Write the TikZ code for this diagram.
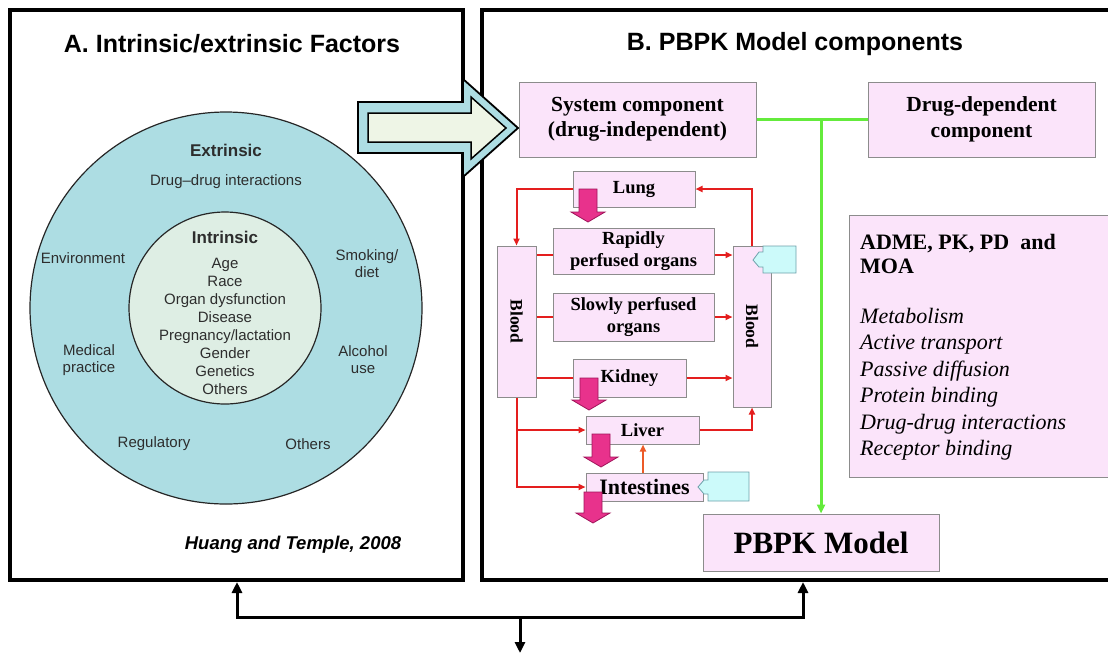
\documentclass[tikz,border=0pt]{standalone}
\usepackage{fontspec}
\usepackage{graphicx}
\setmainfont{Liberation Serif}
\newfontfamily\arialfont[Ligatures=TeX]{Liberation Sans}
\usetikzlibrary{arrows.meta}

\definecolor{outerblue}{RGB}{173,221,227}
\definecolor{innergreen}{RGB}{222,238,228}
\definecolor{arrowfill}{RGB}{238,245,230}
\definecolor{boxpink}{RGB}{251,228,250}
\definecolor{boxgray}{RGB}{140,140,140}
\definecolor{flowred}{RGB}{228,30,30}
\definecolor{floworange}{RGB}{236,90,40}
\definecolor{drainpink}{RGB}{232,50,140}
\definecolor{draindark}{RGB}{160,20,90}
\definecolor{notchcyan}{RGB}{204,250,250}
\definecolor{notchedge}{RGB}{110,160,170}
\definecolor{linkgreen}{RGB}{100,235,60}
\definecolor{labelgray}{RGB}{45,45,45}

\tikzset{
  panel/.style={draw=black, line width=4pt},
  title/.style={font=\arialfont\bfseries\fontsize{25}{30}\selectfont, inner sep=0pt},
  factor/.style={font=\arialfont\fontsize{15}{17}\selectfont, text=labelgray, align=center, inner sep=0pt},
  factorhead/.style={font=\arialfont\bfseries\fontsize{17}{20}\selectfont, text=labelgray, inner sep=0pt},
  pinkbox/.style={draw=boxgray, fill=boxpink, line width=1pt, inner sep=0pt, align=center},
  comp/.style={pinkbox, font=\bfseries\fontsize{21.5}{25.5}\selectfont},
  organ/.style={pinkbox, font=\bfseries\fontsize{18.5}{22.5}\selectfont},
  flow/.style={draw=flowred, line width=2pt, -{Triangle[length=7pt,width=6pt]}},
  flowplain/.style={draw=flowred, line width=2pt},
  drain/.style={fill=drainpink, draw=draindark, line width=0.8pt},
  notch/.style={fill=notchcyan, draw=notchedge, line width=0.8pt},
  link/.style={draw=linkgreen, line width=3pt},
  back/.style={draw=black, line width=3pt, -{Triangle[length=11pt,width=10pt]}}
}

% block arrow pointing down: x, shaft top, tip
\newcommand{\outarrow}[3]{%
  \filldraw[drain] (#1-9,#2) -- (#1+9,#2) -- (#1+9,#3-10) -- (#1+17,#3-10)
    -- (#1,#3) -- (#1-17,#3-10) -- (#1-9,#3-10) -- cycle;}

\begin{document}
\begin{tikzpicture}[x=1pt,y=-1pt]
  \useasboundingbox (0,0) rectangle (1108,654);

  % panels
  \draw[panel] (10,10) rectangle (463,580);
  \draw[panel] (482,10) rectangle (1120,580);
  \node[title] (titleA) at (232,44) {A. Intrinsic/extrinsic Factors};
  \node[title] (titleB) at (795,44) {B. PBPK Model components};

  % hollow arrow A -> B
  \filldraw[fill=outerblue, draw=black, line width=1.8pt] (358,102) -- (463,102) -- (463,79)
    -- (518,128) -- (463,177) -- (463,153) -- (358,153) -- cycle;
  \filldraw[fill=arrowfill, draw=black, line width=1.5pt] (368,113) -- (471,113) -- (471,97)
    -- (506,128) -- (471,159) -- (471,142) -- (368,142) -- cycle;

  % factor circles
  \node[circle, minimum size=392, inner sep=0pt, fill=outerblue, draw=black!85, line width=1.2pt] (extr) at (226,308) {};
  \node[circle, minimum size=192, inner sep=0pt, fill=innergreen, draw=black!85, line width=1.2pt] (intr) at (225,308) {};

  \node[factorhead] (extrhead) at (226,150) {Extrinsic};
  \node[factor] (ddi) at (226,182) {Drug–drug interactions};
  \node[factorhead] (intrhead) at (225,237) {Intrinsic};
  \node[factor, font=\arialfont\fontsize{15}{18}\selectfont] (intrlist) at (225,326)
    {Age\\Race\\Organ dysfunction\\Disease\\Pregnancy/lactation\\Gender\\Genetics\\Others};
  \node[factor] (env) at (83,258) {Environment};
  \node[factor] (smoke) at (367,264) {Smoking/\\diet};
  \node[factor] (medic) at (89,360) {Medical\\practice};
  \node[factor] (alco) at (363,360) {Alcohol\\use};
  \node[factor] (regul) at (154,444) {Regulatory};
  \node[factor] (othr) at (308,444) {Others};
  \node[font=\arialfont\bfseries\itshape\fontsize{18.5}{22}\selectfont, inner sep=0pt] (cite) at (293,545) {Huang and Temple, 2008};

  % model components
  \node[comp, minimum width=237, minimum height=75] (sys) at (637.5,119.5) {System component\\(drug-independent)};
  \node[comp, minimum width=227, minimum height=75] (drug) at (981.5,119.5) {Drug-dependent\\component};
  \node[pinkbox, minimum width=270, minimum height=262] (adme) at (984,346) {};
  \node[anchor=north west, align=left, inner sep=0pt, font=\bfseries\fontsize{22}{24}\selectfont] (admehead) at (860,234)
    {ADME, PK, PD\ \ and\\MOA};
  \node[anchor=north west, align=left, inner sep=0pt, font=\itshape\fontsize{22}{26.5}\selectfont] (admelist) at (860,308)
    {Metabolism\\Active transport\\Passive diffusion\\Protein binding\\Drug-drug interactions\\Receptor binding};
  \node[comp, font=\bfseries\fontsize{31}{36}\selectfont, minimum width=236, minimum height=57] (pbpk) at (821,542.5) {PBPK Model};

  % organs
  \node[organ, minimum width=122, minimum height=36] (lung) at (634,189) {Lung};
  \node[organ, minimum width=161, minimum height=46] (rapid) at (633.5,251) {Rapidly\\perfused organs};
  \node[organ, minimum width=161, minimum height=48] (slow) at (633.5,317) {Slowly perfused\\organs};
  \node[organ, minimum width=113, minimum height=38] (kidney) at (629.5,378) {Kidney};
  \node[organ, minimum width=113, minimum height=28] (liver) at (642.5,430) {Liver};
  \node[organ, font=\bfseries\fontsize{22}{26}\selectfont, minimum width=117, minimum height=28] (intest) at (644.5,487) {Intestines};
  \node[organ, font=\bfseries\fontsize{17.5}{21}\selectfont, minimum width=39, minimum height=151] (bloodL) at (516.5,321.5) {\rotatebox{-90}{Blood}};
  \node[organ, font=\bfseries\fontsize{17.5}{21}\selectfont, minimum width=38, minimum height=161] (bloodR) at (752,326.5) {\rotatebox{-90}{Blood}};

  % blood flow
  \draw[flow] (lung.west) -| (bloodL.north);
  \draw[flow] (bloodR.north) |- (lung.east);
  \draw[flowplain] ([yshift=-4pt]bloodL.east |- rapid.west) -- ([yshift=-4pt]rapid.west);
  \draw[flow] ([yshift=-4pt]rapid.east) -- ([yshift=-4pt]rapid.east -| bloodR.west);
  \draw[flowplain] (bloodL.east |- slow.west) -- (slow.west);
  \draw[flow] (slow.east) -- (slow.east -| bloodR.west);
  \draw[flowplain] (bloodL.east |- kidney.west) -- (kidney.west);
  \draw[flow] (kidney.east) -- (kidney.east -| bloodR.west);
  \draw[flow] (bloodL.south) |- (intest.west);
  \draw[flow] (bloodL.south |- liver.west) -- (liver.west);
  \draw[flow] (liver.east) -| (bloodR.south);
  \draw[flow, draw=floworange] (intest.north -| 643,0) -- (liver.south -| 643,0);

  % elimination
  \outarrow{588}{189}{222}
  \outarrow{589}{378}{410}
  \outarrow{601}{434}{467}
  \outarrow{593}{492}{523}

  % inputs
  \filldraw[notch] (796,246) -- (763,246) -- (763,252) -- (759,252) -- (753,260) -- (759,267)
    -- (763,267) -- (763,273) -- (796,273) -- cycle;
  \filldraw[notch] (749,472) -- (708,472) -- (708,480) -- (704,480) -- (698,487) -- (704,494)
    -- (708,494) -- (708,501) -- (749,501) -- cycle;

  % components -> model
  \draw[link] (sys.east) -- (drug.west);
  \draw[link, -{Triangle[length=9pt,width=8pt]}] (sys.east -| pbpk.north) -- (pbpk.north);

  % feedback
  \coordinate (split) at (520,617);
  \coordinate (backA) at (237,582);
  \coordinate (backB) at (803,582);
  \coordinate (onward) at (520,653);
  \draw[back] (split) -| (backA);
  \draw[back] (split) -| (backB);
  \draw[back] (split) -- (onward);
\end{tikzpicture}
\end{document}
